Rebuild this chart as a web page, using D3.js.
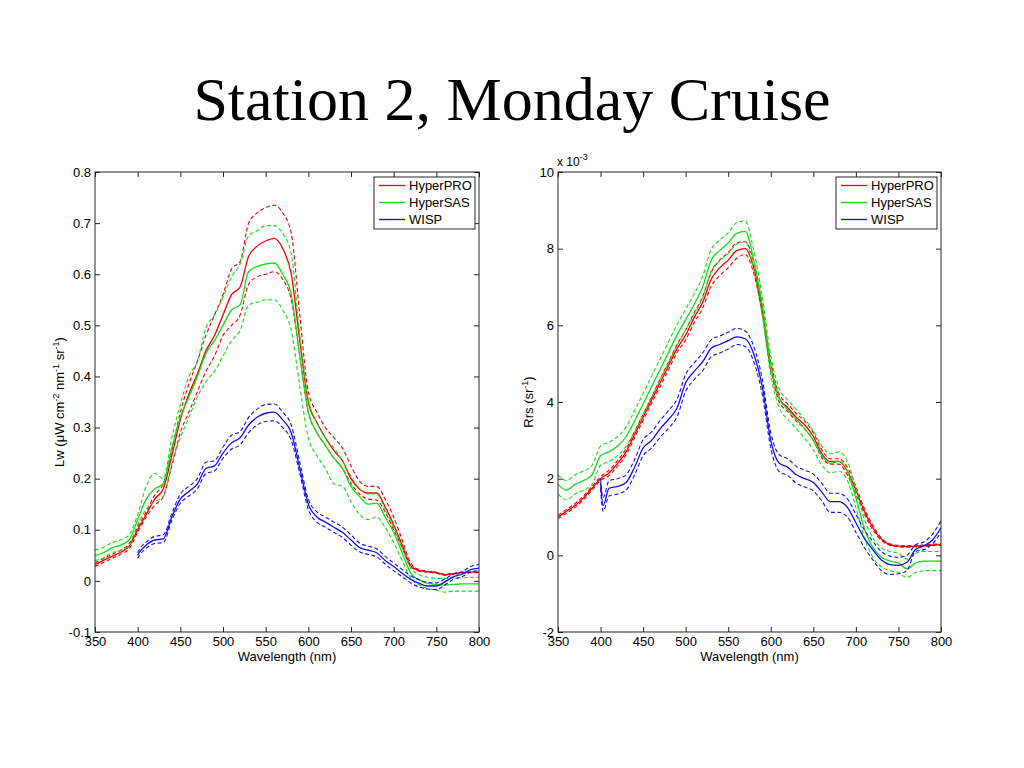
<!DOCTYPE html>
<html><head><meta charset="utf-8">
<script src="https://cdn.jsdelivr.net/npm/d3@7"></script>
<style>
html,body{margin:0;padding:0;background:#fff;}
svg{display:block;}
text{font-family:"Liberation Sans",Arial,sans-serif;}
</style></head>
<body>
<svg id="chart" width="1024" height="768"></svg>
<script>
// ---------- DATA ----------
const title = "Station 2, Monday Cruise";
const wl = [350,360,370,380,390,400,410,420,430,440,450,460,470,480,490,500,510,520,530,540,550,560,570,580,590,600,610,620,630,640,650,660,670,680,690,700,710,720,730,740,750,760,770,780,790,800];
const wlWisp = [400,403,410,420,430,440,450,460,470,480,490,500,510,520,530,540,550,560,570,580,590,600,610,620,630,640,650,660,670,680,690,700,710,720,730,740,750,760,770,780,790,800];
const seriesNames = ["HyperPRO","HyperSAS","WISP"];
const seriesColors = ["#f00000","#11dd11","#1010ee"];
const xTicks = [350,400,450,500,550,600,650,700,750,800];
const lwTicks = [-0.1,0,0.1,0.2,0.3,0.4,0.5,0.6,0.7,0.8];
const rrsTicks = [-2,0,2,4,6,8,10];

// Left panel: Lw (uW cm^-2 nm^-1 sr^-1)
const lwProMean = [.031,.040,.048,.056,.068,.100,.130,.160,.180,.245,.315,.365,.405,.450,.480,.520,.560,.575,.635,.655,.665,.670,.650,.600,.470,.350,.310,.280,.255,.235,.200,.180,.172,.172,.145,.110,.070,.030,.020,.018,.016,.012,.014,.016,.017,.017];
const lwProHi   = [.035,.044,.052,.060,.073,.105,.135,.168,.190,.255,.330,.385,.430,.480,.520,.560,.610,.625,.700,.720,.730,.735,.720,.680,.520,.370,.330,.300,.280,.260,.225,.195,.185,.185,.160,.125,.080,.035,.022,.019,.017,.013,.015,.017,.018,.018];
const lwProLo   = [.028,.036,.044,.052,.063,.095,.125,.148,.165,.225,.290,.330,.370,.410,.440,.480,.500,.520,.580,.595,.600,.605,.590,.550,.440,.330,.290,.265,.240,.220,.190,.170,.160,.158,.135,.100,.065,.028,.019,.017,.015,.011,.013,.015,.016,.016];
const lwSasMean = [.050,.055,.065,.070,.080,.120,.160,.180,.190,.260,.320,.360,.400,.445,.470,.500,.530,.540,.605,.615,.620,.622,.600,.560,.440,.330,.290,.265,.240,.220,.185,.165,.150,.152,.125,.095,.055,.015,.002,-.005,-.007,-.008,-.007,-.006,-.006,-.006];
const lwSasHi   = [.060,.066,.075,.080,.090,.130,.185,.210,.200,.280,.345,.400,.430,.495,.520,.555,.595,.620,.675,.685,.695,.695,.680,.640,.480,.355,.310,.280,.260,.235,.205,.180,.170,.170,.140,.105,.065,.025,.012,.007,.005,.005,.006,.006,.007,.007];
const lwSasLo   = [.040,.045,.055,.060,.070,.110,.140,.155,.165,.230,.280,.320,.360,.390,.410,.440,.470,.490,.540,.545,.550,.550,.530,.490,.380,.280,.245,.220,.190,.185,.155,.130,.120,.125,.105,.075,.040,.005,-.008,-.015,-.018,-.022,-.020,-.020,-.020,-.020];
const lwWispMean = [.050,.058,.070,.080,.082,.125,.160,.175,.190,.220,.225,.250,.270,.280,.305,.320,.328,.330,.315,.290,.220,.150,.125,.115,.105,.095,.080,.065,.060,.055,.040,.028,.015,.003,-.005,-.010,-.010,-.002,.008,.013,.022,.025];
const lwWispHi   = [.055,.064,.076,.087,.090,.132,.170,.185,.200,.232,.235,.262,.285,.292,.320,.336,.345,.346,.330,.305,.232,.160,.135,.125,.115,.105,.090,.074,.068,.063,.048,.035,.022,.010,.002,-.003,-.004,.004,.013,.018,.028,.032];
const lwWispLo   = [.044,.052,.064,.073,.075,.118,.152,.166,.180,.210,.215,.240,.258,.266,.290,.305,.312,.313,.300,.275,.210,.140,.115,.105,.095,.085,.070,.057,.052,.047,.033,.020,.008,-.004,-.012,-.016,-.017,-.008,.003,.008,.017,.020];

// Right panel: Rrs (sr^-1), in units of 1e-3
const rrsProMean = [1.00,1.15,1.30,1.50,1.75,2.00,2.15,2.40,2.70,3.15,3.60,4.05,4.50,4.95,5.40,5.75,6.20,6.60,7.20,7.50,7.70,7.95,8.00,7.50,6.40,4.95,4.10,3.85,3.60,3.40,3.10,2.65,2.45,2.45,2.20,1.70,1.15,0.72,0.42,0.28,0.24,0.23,0.24,0.25,0.27,0.28];
const rrsProHi   = [1.05,1.20,1.35,1.55,1.80,2.05,2.22,2.47,2.78,3.23,3.68,4.13,4.60,5.05,5.50,5.88,6.33,6.75,7.38,7.70,7.90,8.15,8.18,7.65,6.50,5.05,4.20,3.95,3.70,3.50,3.20,2.75,2.52,2.52,2.30,1.80,1.22,0.78,0.45,0.30,0.26,0.25,0.26,0.27,0.29,0.30];
const rrsProLo   = [0.95,1.10,1.25,1.45,1.70,1.95,2.08,2.33,2.62,3.07,3.52,3.97,4.40,4.85,5.30,5.62,6.07,6.45,7.02,7.30,7.50,7.75,7.85,7.35,6.30,4.85,4.00,3.75,3.50,3.30,3.00,2.55,2.38,2.38,2.10,1.60,1.08,0.66,0.39,0.26,0.22,0.21,0.22,0.23,0.25,0.26];
const rrsSasMean = [1.85,1.70,1.85,1.95,2.10,2.60,2.70,2.85,3.10,3.50,3.95,4.40,4.85,5.30,5.75,6.15,6.55,7.00,7.70,7.95,8.15,8.40,8.45,7.70,6.50,4.95,4.10,3.80,3.55,3.30,3.00,2.60,2.40,2.45,2.20,1.50,0.70,0.20,-0.05,-0.15,-0.20,-0.35,-0.20,-0.15,-0.15,-0.15];
const rrsSasHi   = [2.10,1.95,2.10,2.20,2.35,2.85,2.95,3.10,3.35,3.78,4.22,4.68,5.12,5.58,6.02,6.42,6.82,7.28,7.98,8.22,8.42,8.68,8.72,7.95,6.75,5.20,4.35,4.05,3.80,3.55,3.25,2.85,2.65,2.70,2.45,1.75,0.95,0.45,0.20,0.10,0.05,-0.10,0.05,0.10,0.10,0.10];
const rrsSasLo   = [1.60,1.45,1.60,1.70,1.85,2.35,2.45,2.60,2.85,3.22,3.68,4.12,4.58,5.02,5.48,5.88,6.28,6.72,7.42,7.68,7.88,8.12,8.18,7.45,6.25,4.70,3.85,3.55,3.30,3.05,2.75,2.35,2.15,2.20,1.95,1.25,0.45,-0.05,-0.30,-0.40,-0.45,-0.58,-0.45,-0.40,-0.40,-0.40];
const rrsWispMean = [1.90,1.30,1.75,1.80,1.90,2.30,2.80,3.00,3.30,3.55,3.85,4.50,4.80,5.05,5.40,5.50,5.60,5.70,5.65,5.25,4.40,3.00,2.40,2.30,2.10,2.00,1.90,1.65,1.40,1.40,1.25,0.85,0.44,0.14,-0.12,-0.24,-0.26,-0.18,0.15,0.25,0.40,0.72];
const rrsWispHi   = [2.00,1.50,1.95,2.00,2.10,2.50,3.02,3.22,3.52,3.78,4.08,4.72,5.02,5.28,5.62,5.72,5.82,5.92,5.85,5.45,4.60,3.20,2.62,2.52,2.32,2.22,2.12,1.88,1.62,1.62,1.47,1.07,0.66,0.36,0.10,-0.02,-0.05,0.00,0.28,0.35,0.55,0.90];
const rrsWispLo   = [1.75,1.15,1.55,1.60,1.70,2.10,2.60,2.80,3.08,3.32,3.62,4.28,4.58,4.82,5.18,5.28,5.38,5.50,5.45,5.05,4.20,2.80,2.18,2.08,1.88,1.78,1.68,1.42,1.12,1.12,1.00,0.60,0.20,-0.12,-0.40,-0.50,-0.48,-0.40,0.10,0.15,0.30,0.60];

// ---------- DRAW ----------
const svg = d3.select("#chart");
svg.append("text").attr("x",512).attr("y",120).attr("text-anchor","middle")
  .style("font-family","'Liberation Serif','Times New Roman',serif").style("font-size","62px").attr("fill","#000")
  .text(title);

const axisColor = "#262626";
function panel(opts){
  const {x0,x1,y0,y1,yDomain,yTicks,yFmt,series,yLabel,legend} = opts;
  const x = d3.scaleLinear().domain([350,800]).range([x0,x1]);
  const y = d3.scaleLinear().domain(yDomain).range([y1,y0]);
  const g = svg.append("g");
  const clip = "clip"+x0;
  svg.append("clipPath").attr("id",clip).append("rect").attr("x",x0).attr("y",y0).attr("width",x1-x0).attr("height",y1-y0);
  const gl = g.append("g").attr("clip-path",`url(#${clip})`);
  series.forEach(s=>{
    [["hi",true],["lo",true],["mean",false]].forEach(([k,dash])=>{
      const pts = s.wl.map((w,i)=>[w,s[k][i]]);
      gl.append("path").datum(pts)
        .attr("d",d3.line().x(d=>x(d[0])).y(d=>y(d[1])).curve(d3.curveMonotoneX))
        .attr("fill","none").attr("stroke",s.color).attr("stroke-width",dash?1.1:1.3)
        .attr("stroke-dasharray",dash?"4,2.5":null);
    });
  });
  const fmtX = d=>String(d);
  const ax = [
    g.append("g").attr("transform",`translate(0,${y1})`).call(d3.axisBottom(x).tickValues(xTicks).tickSize(-5).tickPadding(5).tickFormat(fmtX)),
    g.append("g").attr("transform",`translate(0,${y0})`).call(d3.axisTop(x).tickValues(xTicks).tickSize(-5).tickFormat("")),
    g.append("g").attr("transform",`translate(${x0},0)`).call(d3.axisLeft(y).tickValues(yTicks).tickSize(-5).tickPadding(4).tickFormat(yFmt)),
    g.append("g").attr("transform",`translate(${x1},0)`).call(d3.axisRight(y).tickValues(yTicks).tickSize(-5).tickFormat(""))
  ];
  ax.forEach(a=>{
    a.select(".domain").remove();
    a.selectAll(".tick line").attr("stroke",axisColor);
    a.selectAll(".tick text").attr("fill","#000").style("font-size","13px").style("font-family","'Liberation Sans',Arial,sans-serif");
  });
  g.append("rect").attr("x",x0).attr("y",y0).attr("width",x1-x0).attr("height",y1-y0)
    .attr("fill","none").attr("stroke",axisColor).attr("stroke-width",1);
  g.append("text").attr("x",(x0+x1)/2).attr("y",661).attr("text-anchor","middle").style("font-size","13px").text("Wavelength (nm)");
  yLabel(g);
  const lg = g.append("g");
  lg.append("rect").attr("x",legend.x).attr("y",177).attr("width",legend.w).attr("height",52)
    .attr("fill","#fff").attr("stroke",axisColor).attr("stroke-width",1);
  seriesNames.forEach((n,i)=>{
    const yy = 185.5 + i*17;
    lg.append("line").attr("x1",legend.x+5).attr("x2",legend.x+31).attr("y1",yy).attr("y2",yy)
      .attr("stroke",seriesColors[i]).attr("stroke-width",1.3);
    lg.append("text").attr("x",legend.x+35).attr("y",yy+4.5).style("font-size","13px").text(n);
  });
  return {x,y};
}

function mkSeries(arrs){
  return arrs.map((a,i)=>({wl:a[0],mean:a[1],hi:a[2],lo:a[3],color:seriesColors[i]}));
}

panel({
  x0:95,x1:479,y0:172,y1:632,yDomain:[-0.1,0.8],yTicks:lwTicks,
  yFmt:d=>Math.abs(d)<1e-9?"0":d.toFixed(1),
  series:mkSeries([[wl,lwProMean,lwProHi,lwProLo],[wl,lwSasMean,lwSasHi,lwSasLo],[wlWisp,lwWispMean,lwWispHi,lwWispLo]]),
  legend:{x:374,w:101},
  yLabel:g=>{
    const t = g.append("text").attr("transform","translate(64,402) rotate(-90)").attr("text-anchor","middle").style("font-size","13px");
    t.append("tspan").text("Lw (\u03BCW cm");
    t.append("tspan").attr("dy",-5).style("font-size","9px").text("-2");
    t.append("tspan").attr("dy",5).text(" nm");
    t.append("tspan").attr("dy",-5).style("font-size","9px").text("-1");
    t.append("tspan").attr("dy",5).text(" sr");
    t.append("tspan").attr("dy",-5).style("font-size","9px").text("-1");
    t.append("tspan").attr("dy",5).text(")");
  }
});

panel({
  x0:558,x1:941,y0:172,y1:632,yDomain:[-2,10],yTicks:rrsTicks,
  yFmt:d=>String(d),
  series:mkSeries([[wl,rrsProMean,rrsProHi,rrsProLo],[wl,rrsSasMean,rrsSasHi,rrsSasLo],[wlWisp,rrsWispMean,rrsWispHi,rrsWispLo]]),
  legend:{x:836,w:101},
  yLabel:g=>{
    const t = g.append("text").attr("transform","translate(533,402) rotate(-90)").attr("text-anchor","middle").style("font-size","13px");
    t.append("tspan").text("Rrs (sr");
    t.append("tspan").attr("dy",-5).style("font-size","9px").text("-1");
    t.append("tspan").attr("dy",5).text(")");
    const e = g.append("text").attr("x",557).attr("y",166).style("font-size","12px");
    e.append("tspan").text("x 10");
    e.append("tspan").attr("dy",-6).style("font-size","9px").text("-3");
  }
});
</script>
</body></html>
